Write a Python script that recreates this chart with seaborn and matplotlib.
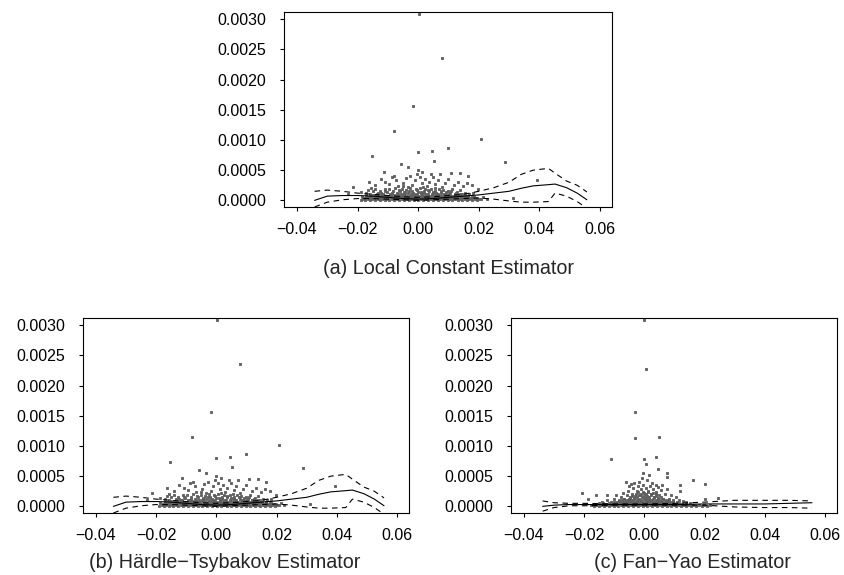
import matplotlib
matplotlib.use("Agg")
import matplotlib.pyplot as plt
import pandas as pd
import seaborn as sns

# ---------------------------------------------------------------------------
# Lagged return (x) against squared return (y); panels (a) and (b) share data
# ---------------------------------------------------------------------------
lc_outliers = [
    (0.0003, 0.00309), (0.0079, 0.00236), (-0.0018, 0.00156), (-0.0080, 0.00115),
    (0.0207, 0.00102), (0.0100, 0.00087), (0.0045, 0.00082), (0.0000, 0.00080),
    (-0.0153, 0.00074), (0.0287, 0.00063), (0.0051, 0.00065), (-0.0057, 0.00060),
    (-0.0034, 0.00055), (0.0000, 0.00051), (-0.0113, 0.00047), (0.0109, 0.00045),
    (0.0138, 0.00046), (0.0166, 0.00040), (0.0073, 0.00043), (-0.0163, 0.00030),
    (-0.0215, 0.00022), (0.0394, 0.00033), (0.0179, 0.00025), (0.0198, 0.00019),
    (-0.0188, 0.00014), (0.0312, 0.00004), (-0.0232, 0.00011), (0.0215, 0.00006),
    (0.0226, 0.00003),
]
lc_upper_scatter = [
    (-0.0124, 0.00036), (-0.0108, 0.00031), (-0.0095, 0.00027), (-0.0088, 0.00038),
    (-0.0072, 0.00033), (-0.0066, 0.00024), (-0.0049, 0.00029), (-0.0041, 0.00037),
    (-0.0027, 0.00041), (-0.0019, 0.00026), (-0.0011, 0.00034), (-0.0004, 0.00043),
    (0.0006, 0.00039), (0.0012, 0.00028), (0.0021, 0.00035), (0.0029, 0.00024),
    (0.0037, 0.00031), (0.0048, 0.00038), (0.0057, 0.00027), (0.0066, 0.00034),
    (0.0079, 0.00022), (0.0088, 0.00029), (0.0097, 0.00036), (0.0118, 0.00025),
    (0.0131, 0.00031), (0.0149, 0.00023), (-0.0141, 0.00026), (-0.0157, 0.00021),
    (0.0161, 0.00028), (-0.0079, 0.00041), (0.0014, 0.00047), (-0.0034, 0.00022),
    (0.0043, 0.00044),
]
lc_mid_scatter = [
    (-0.0172, 0.00012), (-0.0165, 0.00017), (-0.0158, 0.00011), (-0.0149, 0.00015),
    (-0.0141, 0.00019), (-0.0133, 0.00012), (-0.0126, 0.00016), (-0.0118, 0.00011),
    (-0.0111, 0.00019), (-0.0104, 0.00014), (-0.0097, 0.00018), (-0.0091, 0.00011),
    (-0.0084, 0.00015), (-0.0077, 0.00020), (-0.0071, 0.00013), (-0.0064, 0.00017),
    (-0.0058, 0.00011), (-0.0052, 0.00019), (-0.0046, 0.00014), (-0.0039, 0.00017),
    (-0.0033, 0.00012), (-0.0026, 0.00020), (-0.0020, 0.00015), (-0.0013, 0.00011),
    (-0.0007, 0.00018), (-0.0001, 0.00014), (0.0005, 0.00020), (0.0011, 0.00012),
    (0.0018, 0.00016), (0.0024, 0.00019), (0.0031, 0.00011), (0.0037, 0.00015),
    (0.0044, 0.00018), (0.0050, 0.00012), (0.0057, 0.00016), (0.0063, 0.00011),
    (0.0070, 0.00019), (0.0077, 0.00013), (0.0083, 0.00017), (0.0090, 0.00011),
    (0.0097, 0.00015), (0.0104, 0.00012), (0.0112, 0.00018), (0.0120, 0.00011),
    (0.0128, 0.00014), (0.0137, 0.00017), (0.0146, 0.00011), (0.0156, 0.00013),
    (0.0168, 0.00011), (0.0181, 0.00012),
    (-0.0085, 0.00013), (-0.0061, 0.00015), (-0.0043, 0.00012), (-0.0029, 0.00016),
    (-0.0016, 0.00013), (-0.0004, 0.00017), (0.0008, 0.00014), (0.0020, 0.00013),
    (0.0034, 0.00017), (0.0048, 0.00014), (0.0060, 0.00013), (0.0074, 0.00016),
    (0.0093, 0.00014), (-0.0108, 0.00016), (-0.0123, 0.00013), (0.0108, 0.00016),
    (0.0125, 0.00013), (-0.0050, 0.00023), (0.0015, 0.00022), (0.0054, 0.00021),
]
lc_core = [
    (-0.0190, 0.00001), (-0.0182, 0.00002), (-0.0175, 0.00001), (-0.0166, 0.00002),
    (-0.0158, 0.00001), (-0.0151, 0.00003), (-0.0143, 0.00001), (-0.0134, 0.00002),
    (-0.0127, 0.00001), (-0.0119, 0.00002), (-0.0110, 0.00001), (-0.0103, 0.00003),
    (-0.0095, 0.00001), (-0.0086, 0.00002), (-0.0079, 0.00001), (-0.0071, 0.00002),
    (-0.0062, 0.00001), (-0.0055, 0.00003), (-0.0047, 0.00001), (-0.0038, 0.00002),
    (-0.0031, 0.00001), (-0.0023, 0.00002), (-0.0014, 0.00001), (-0.0007, 0.00003),
    (0.0001, 0.00001), (0.0010, 0.00002), (0.0017, 0.00001), (0.0025, 0.00002),
    (0.0034, 0.00001), (0.0041, 0.00003), (0.0049, 0.00001), (0.0058, 0.00002),
    (0.0065, 0.00001), (0.0073, 0.00002), (0.0082, 0.00001), (0.0089, 0.00003),
    (0.0097, 0.00001), (0.0106, 0.00002), (0.0113, 0.00001), (0.0121, 0.00002),
    (0.0130, 0.00001), (0.0137, 0.00003), (0.0145, 0.00001), (0.0154, 0.00002),
    (0.0161, 0.00001), (0.0169, 0.00002), (0.0178, 0.00001), (0.0186, 0.00003),
    (0.0195, 0.00001), (0.0207, 0.00002),
    (-0.0186, 0.00005), (-0.0178, 0.00004), (-0.0170, 0.00006), (-0.0162, 0.00004),
    (-0.0155, 0.00005), (-0.0147, 0.00004), (-0.0138, 0.00006), (-0.0130, 0.00004),
    (-0.0123, 0.00005), (-0.0114, 0.00004), (-0.0106, 0.00006), (-0.0099, 0.00004),
    (-0.0090, 0.00005), (-0.0082, 0.00004), (-0.0075, 0.00006), (-0.0066, 0.00004),
    (-0.0058, 0.00005), (-0.0051, 0.00004), (-0.0042, 0.00006), (-0.0035, 0.00004),
    (-0.0027, 0.00005), (-0.0018, 0.00004), (-0.0011, 0.00006), (-0.0003, 0.00004),
    (0.0006, 0.00005), (0.0013, 0.00004), (0.0021, 0.00006), (0.0030, 0.00004),
    (0.0037, 0.00005), (0.0045, 0.00004), (0.0054, 0.00006), (0.0061, 0.00004),
    (0.0069, 0.00005), (0.0078, 0.00004), (0.0085, 0.00006), (0.0093, 0.00004),
    (0.0102, 0.00005), (0.0109, 0.00004), (0.0117, 0.00006), (0.0126, 0.00004),
    (0.0133, 0.00005), (0.0141, 0.00004), (0.0150, 0.00006), (0.0158, 0.00004),
    (0.0166, 0.00005), (0.0174, 0.00004), (0.0183, 0.00005), (0.0192, 0.00004),
    (0.0201, 0.00003),
    (-0.0171, 0.00008), (-0.0160, 0.00007), (-0.0152, 0.00009), (-0.0141, 0.00007),
    (-0.0133, 0.00008), (-0.0124, 0.00007), (-0.0116, 0.00009), (-0.0107, 0.00007),
    (-0.0098, 0.00008), (-0.0089, 0.00007), (-0.0081, 0.00009), (-0.0072, 0.00007),
    (-0.0063, 0.00008), (-0.0054, 0.00007), (-0.0046, 0.00009), (-0.0037, 0.00007),
    (-0.0028, 0.00008), (-0.0019, 0.00007), (-0.0010, 0.00009), (-0.0002, 0.00007),
    (0.0008, 0.00008), (0.0016, 0.00007), (0.0026, 0.00009), (0.0033, 0.00007),
    (0.0043, 0.00008), (0.0051, 0.00007), (0.0060, 0.00009), (0.0068, 0.00007),
    (0.0077, 0.00008), (0.0086, 0.00007), (0.0095, 0.00009), (0.0104, 0.00007),
    (0.0112, 0.00008), (0.0122, 0.00007), (0.0131, 0.00009), (0.0142, 0.00007),
    (0.0153, 0.00008), (0.0164, 0.00007), (0.0177, 0.00006),
    (-0.0135, 0.00010), (-0.0093, 0.00010), (-0.0048, 0.00011), (-0.0005, 0.00010),
    (0.0028, 0.00011), (0.0066, 0.00010), (0.0101, 0.00011), (0.0139, 0.00010),
    (-0.0115, 0.00011), (-0.0068, 0.00010), (-0.0025, 0.00011), (0.0012, 0.00010),
    (0.0047, 0.00010), (0.0085, 0.00011), (0.0120, 0.00010),
]

# Local constant fit with its pointwise band (also used for panel b)
lc_grid = [-0.0342, -0.0300, -0.0250, -0.0200, -0.0150, -0.0100, -0.0050, 0.0000,
           0.0050, 0.0100, 0.0150, 0.0200, 0.0250, 0.0300, 0.0340, 0.0380,
           0.0430, 0.0452, 0.0490, 0.0525, 0.0557]
lc_fit = [0.00000, 0.00007, 0.00008, 0.00008, 0.00007, 0.00005, 0.00003, 0.00002,
          0.00003, 0.00005, 0.00007, 0.00009, 0.00012, 0.00015, 0.00020, 0.00024,
          0.00026, 0.00027, 0.00021, 0.00012, 0.00001]
lc_upper = [0.00015, 0.00017, 0.00015, 0.00012, 0.00010, 0.00008, 0.00006, 0.00005,
            0.00006, 0.00008, 0.00010, 0.00015, 0.00021, 0.00030, 0.00043, 0.00050,
            0.00053, 0.00045, 0.00032, 0.00025, 0.00014]
lc_lower = [-0.00011, -0.00003, 0.00001, 0.00003, 0.00003, 0.00002, 0.00001, 0.00000,
            0.00001, 0.00002, 0.00003, 0.00004, 0.00002, -0.00001, -0.00003, -0.00003,
            -0.00002, 0.00012, 0.00007, -0.00002, -0.00013]

# ---------------------------------------------------------------------------
# Fan-Yao panel: residual-based squared values
# ---------------------------------------------------------------------------
fy_outliers = [
    (0.0000, 0.00309), (0.0005, 0.00227), (-0.0032, 0.00157), (-0.0030, 0.00113),
    (0.0048, 0.00115), (-0.0110, 0.00078), (0.0000, 0.00079), (0.0040, 0.00081),
    (0.0007, 0.00070), (0.0047, 0.00062), (0.0076, 0.00055), (0.0076, 0.00049),
    (-0.0004, 0.00055), (0.0160, 0.00044), (0.0200, 0.00037), (0.0118, 0.00035),
    (0.0118, 0.00025), (0.0038, 0.00036), (-0.0207, 0.00022), (-0.0162, 0.00018),
    (-0.0124, 0.00018), (-0.0186, 0.00012), (0.0245, 0.00014), (0.0200, 0.00013),
    (-0.0060, 0.00040), (-0.0036, 0.00039), (-0.0052, 0.00034),
]
fy_halo = [
    (-0.0101, 0.00012), (-0.0093, 0.00018), (-0.0085, 0.00010), (-0.0078, 0.00015),
    (-0.0071, 0.00022), (-0.0066, 0.00012), (-0.0059, 0.00019), (-0.0053, 0.00026),
    (-0.0047, 0.00014), (-0.0042, 0.00021), (-0.0037, 0.00030), (-0.0031, 0.00017),
    (-0.0026, 0.00025), (-0.0021, 0.00033), (-0.0016, 0.00019), (-0.0011, 0.00028),
    (-0.0006, 0.00036), (-0.0001, 0.00022), (0.0004, 0.00031), (0.0009, 0.00017),
    (0.0013, 0.00026), (0.0018, 0.00034), (0.0023, 0.00020), (0.0028, 0.00029),
    (0.0033, 0.00015), (0.0038, 0.00024), (0.0044, 0.00032), (0.0049, 0.00018),
    (0.0055, 0.00027), (0.0061, 0.00013), (0.0067, 0.00021), (0.0074, 0.00028),
    (0.0081, 0.00012), (0.0088, 0.00018), (0.0096, 0.00010), (0.0105, 0.00015),
    (0.0115, 0.00011), (0.0127, 0.00009), (-0.0112, 0.00008), (-0.0125, 0.00010),
    (-0.0140, 0.00007), (-0.0152, 0.00006), (0.0140, 0.00007), (0.0152, 0.00005),
    (-0.0018, 0.00041), (0.0008, 0.00043), (0.0027, 0.00039), (-0.0045, 0.00037),
    (0.0060, 0.00035), (-0.0008, 0.00047), (0.0016, 0.00052),
]
fy_core = [
    (-0.0176, 0.00002), (-0.0168, 0.00001), (-0.0160, 0.00003), (-0.0151, 0.00001),
    (-0.0143, 0.00002), (-0.0135, 0.00001), (-0.0127, 0.00003), (-0.0118, 0.00001),
    (-0.0110, 0.00002), (-0.0102, 0.00001), (-0.0094, 0.00003), (-0.0086, 0.00001),
    (-0.0078, 0.00002), (-0.0070, 0.00001), (-0.0062, 0.00003), (-0.0054, 0.00001),
    (-0.0046, 0.00002), (-0.0038, 0.00001), (-0.0030, 0.00003), (-0.0022, 0.00001),
    (-0.0014, 0.00002), (-0.0006, 0.00001), (0.0002, 0.00003), (0.0010, 0.00001),
    (0.0018, 0.00002), (0.0026, 0.00001), (0.0034, 0.00003), (0.0042, 0.00001),
    (0.0050, 0.00002), (0.0058, 0.00001), (0.0066, 0.00003), (0.0074, 0.00001),
    (0.0082, 0.00002), (0.0090, 0.00001), (0.0098, 0.00003), (0.0106, 0.00001),
    (0.0114, 0.00002), (0.0122, 0.00001), (0.0130, 0.00003), (0.0138, 0.00001),
    (0.0146, 0.00002), (0.0154, 0.00001), (0.0163, 0.00002), (0.0172, 0.00001),
    (0.0181, 0.00002), (0.0190, 0.00001), (0.0199, 0.00002), (0.0209, 0.00001),
    (0.0218, 0.00002),
    (-0.0139, 0.00005), (-0.0128, 0.00004), (-0.0118, 0.00006), (-0.0108, 0.00004),
    (-0.0099, 0.00005), (-0.0090, 0.00004), (-0.0082, 0.00006), (-0.0074, 0.00004),
    (-0.0066, 0.00005), (-0.0058, 0.00004), (-0.0050, 0.00006), (-0.0042, 0.00004),
    (-0.0034, 0.00005), (-0.0026, 0.00004), (-0.0018, 0.00006), (-0.0010, 0.00004),
    (-0.0002, 0.00005), (0.0006, 0.00004), (0.0014, 0.00006), (0.0022, 0.00004),
    (0.0030, 0.00005), (0.0038, 0.00004), (0.0046, 0.00006), (0.0054, 0.00004),
    (0.0062, 0.00005), (0.0070, 0.00004), (0.0078, 0.00006), (0.0087, 0.00004),
    (0.0096, 0.00005), (0.0105, 0.00004), (0.0115, 0.00006), (0.0126, 0.00004),
    (0.0138, 0.00005), (0.0151, 0.00004),
    (-0.0101, 0.00008), (-0.0092, 0.00007), (-0.0084, 0.00009), (-0.0076, 0.00007),
    (-0.0068, 0.00008), (-0.0060, 0.00007), (-0.0052, 0.00009), (-0.0044, 0.00007),
    (-0.0036, 0.00008), (-0.0028, 0.00007), (-0.0020, 0.00009), (-0.0012, 0.00007),
    (-0.0004, 0.00008), (0.0004, 0.00007), (0.0012, 0.00009), (0.0020, 0.00007),
    (0.0028, 0.00008), (0.0036, 0.00007), (0.0044, 0.00009), (0.0052, 0.00007),
    (0.0060, 0.00008), (0.0068, 0.00007), (0.0077, 0.00009), (0.0086, 0.00007),
    (0.0096, 0.00008), (0.0108, 0.00007),
    (-0.0074, 0.00011), (-0.0066, 0.00012), (-0.0058, 0.00010), (-0.0050, 0.00012),
    (-0.0042, 0.00011), (-0.0034, 0.00013), (-0.0026, 0.00011), (-0.0018, 0.00012),
    (-0.0010, 0.00010), (-0.0002, 0.00013), (0.0006, 0.00011), (0.0014, 0.00012),
    (0.0022, 0.00010), (0.0030, 0.00013), (0.0038, 0.00011), (0.0046, 0.00012),
    (0.0054, 0.00010), (0.0062, 0.00012), (0.0071, 0.00011), (0.0082, 0.00010),
    (-0.0049, 0.00015), (-0.0041, 0.00017), (-0.0033, 0.00014), (-0.0025, 0.00016),
    (-0.0017, 0.00018), (-0.0009, 0.00015), (-0.0001, 0.00017), (0.0007, 0.00014),
    (0.0015, 0.00016), (0.0023, 0.00018), (0.0031, 0.00015), (0.0039, 0.00017),
    (0.0047, 0.00014), (0.0056, 0.00016),
    (-0.0029, 0.00021), (-0.0020, 0.00023), (-0.0011, 0.00020), (-0.0003, 0.00024),
    (0.0005, 0.00021), (0.0013, 0.00023), (0.0021, 0.00020), (0.0030, 0.00022),
    (0.0039, 0.00020),
]

fy_grid = [-0.0338, -0.0300, -0.0250, -0.0200, -0.0100, 0.0000, 0.0100, 0.0200,
           0.0300, 0.0400, 0.0480, 0.0557]
fy_fit = [0.00000, 0.00002, 0.00003, 0.00003, 0.00003, 0.00003, 0.00003, 0.00004,
          0.00004, 0.00004, 0.00005, 0.00006]
fy_upper = [0.00009, 0.00006, 0.00005, 0.00005, 0.00004, 0.00004, 0.00005, 0.00007,
            0.00010, 0.00010, 0.00010, 0.00009]
fy_lower = [-0.00008, -0.00002, 0.00001, 0.00001, 0.00002, 0.00002, 0.00002, 0.00002,
            -0.00001, -0.00002, -0.00002, -0.00003]

x_ticks = [-0.04, -0.02, 0.00, 0.02, 0.04, 0.06]
x_tick_labels = ["\u22120.04", "\u22120.02", "0.00", "0.02", "0.04", "0.06"]
y_ticks = [0.0, 0.0005, 0.0010, 0.0015, 0.0020, 0.0025, 0.0030]
y_tick_labels = ["0.0000", "0.0005", "0.0010", "0.0015", "0.0020", "0.0025", "0.0030"]

panel_titles = ["(a) Local Constant Estimator",
                "(b) H\u00e4rdle\u2212Tsybakov Estimator",
                "(c) Fan\u2212Yao Estimator"]

POINT_COLOR = "#5e5e5e"

sns.set_style("ticks")
plt.rcParams["font.family"] = ["Liberation Sans", "DejaVu Sans"]
plt.rcParams["axes.unicode_minus"] = True


def draw_panel(ax, groups, grid, fit, upper, lower):
    pts = pd.DataFrame([p for g in groups for p in g], columns=["x", "y"])
    sns.scatterplot(data=pts, x="x", y="y", ax=ax, color=POINT_COLOR,
                    marker="s", s=4.2, linewidth=0, legend=False, zorder=2,
                    snap=False)
    curves = pd.DataFrame({"x": grid, "fit": fit, "upper": upper, "lower": lower})
    sns.lineplot(data=curves, x="x", y="fit", ax=ax, color="black", lw=0.8,
                 estimator=None, sort=False, zorder=3)
    for col in ("upper", "lower"):
        sns.lineplot(data=curves, x="x", y=col, ax=ax, color="black", lw=0.8,
                     linestyle=(0, (5, 4)), estimator=None, sort=False, zorder=3)

    ax.set_xlim(-0.0443, 0.0640)
    ax.set_ylim(-0.00011, 0.00312)
    ax.set_xticks(x_ticks)
    ax.set_xticklabels(x_tick_labels)
    ax.set_yticks(y_ticks)
    ax.set_yticklabels(y_tick_labels)
    ax.set_xlabel("")
    ax.set_ylabel("")
    for side in ("left", "right", "top", "bottom"):
        ax.spines[side].set_visible(True)
        ax.spines[side].set_color("black")
        ax.spines[side].set_linewidth(0.8)
    ax.tick_params(axis="both", direction="out", length=3, width=0.8,
                   colors="black", labelsize=11.5)
    ax.tick_params(axis="x", pad=8)
    ax.tick_params(axis="y", pad=10)


W, H = 844, 575
fig = plt.figure(figsize=(W / 100, H / 100), dpi=100)

ax_a = fig.add_axes([284 / W, 1 - 207 / H, 328 / W, 195 / H])
ax_b = fig.add_axes([83 / W, 1 - 513 / H, 326 / W, 195 / H])
ax_c = fig.add_axes([511 / W, 1 - 513 / H, 326 / W, 195 / H])

lc_groups = [lc_core, lc_mid_scatter, lc_upper_scatter, lc_outliers]
draw_panel(ax_a, lc_groups, lc_grid, lc_fit, lc_upper, lc_lower)
draw_panel(ax_b, lc_groups, lc_grid, lc_fit, lc_upper, lc_lower)
draw_panel(ax_c, [fy_core, fy_halo, fy_outliers], fy_grid, fy_fit, fy_upper, fy_lower)

title_pos = [(448, 268), (225, 563), (692, 563)]
for text, (px, py) in zip(panel_titles, title_pos):
    fig.text(px / W, 1 - py / H, text, ha="center", va="center", fontsize=14.2)

fig.savefig("out.png", dpi=100, facecolor="white")
